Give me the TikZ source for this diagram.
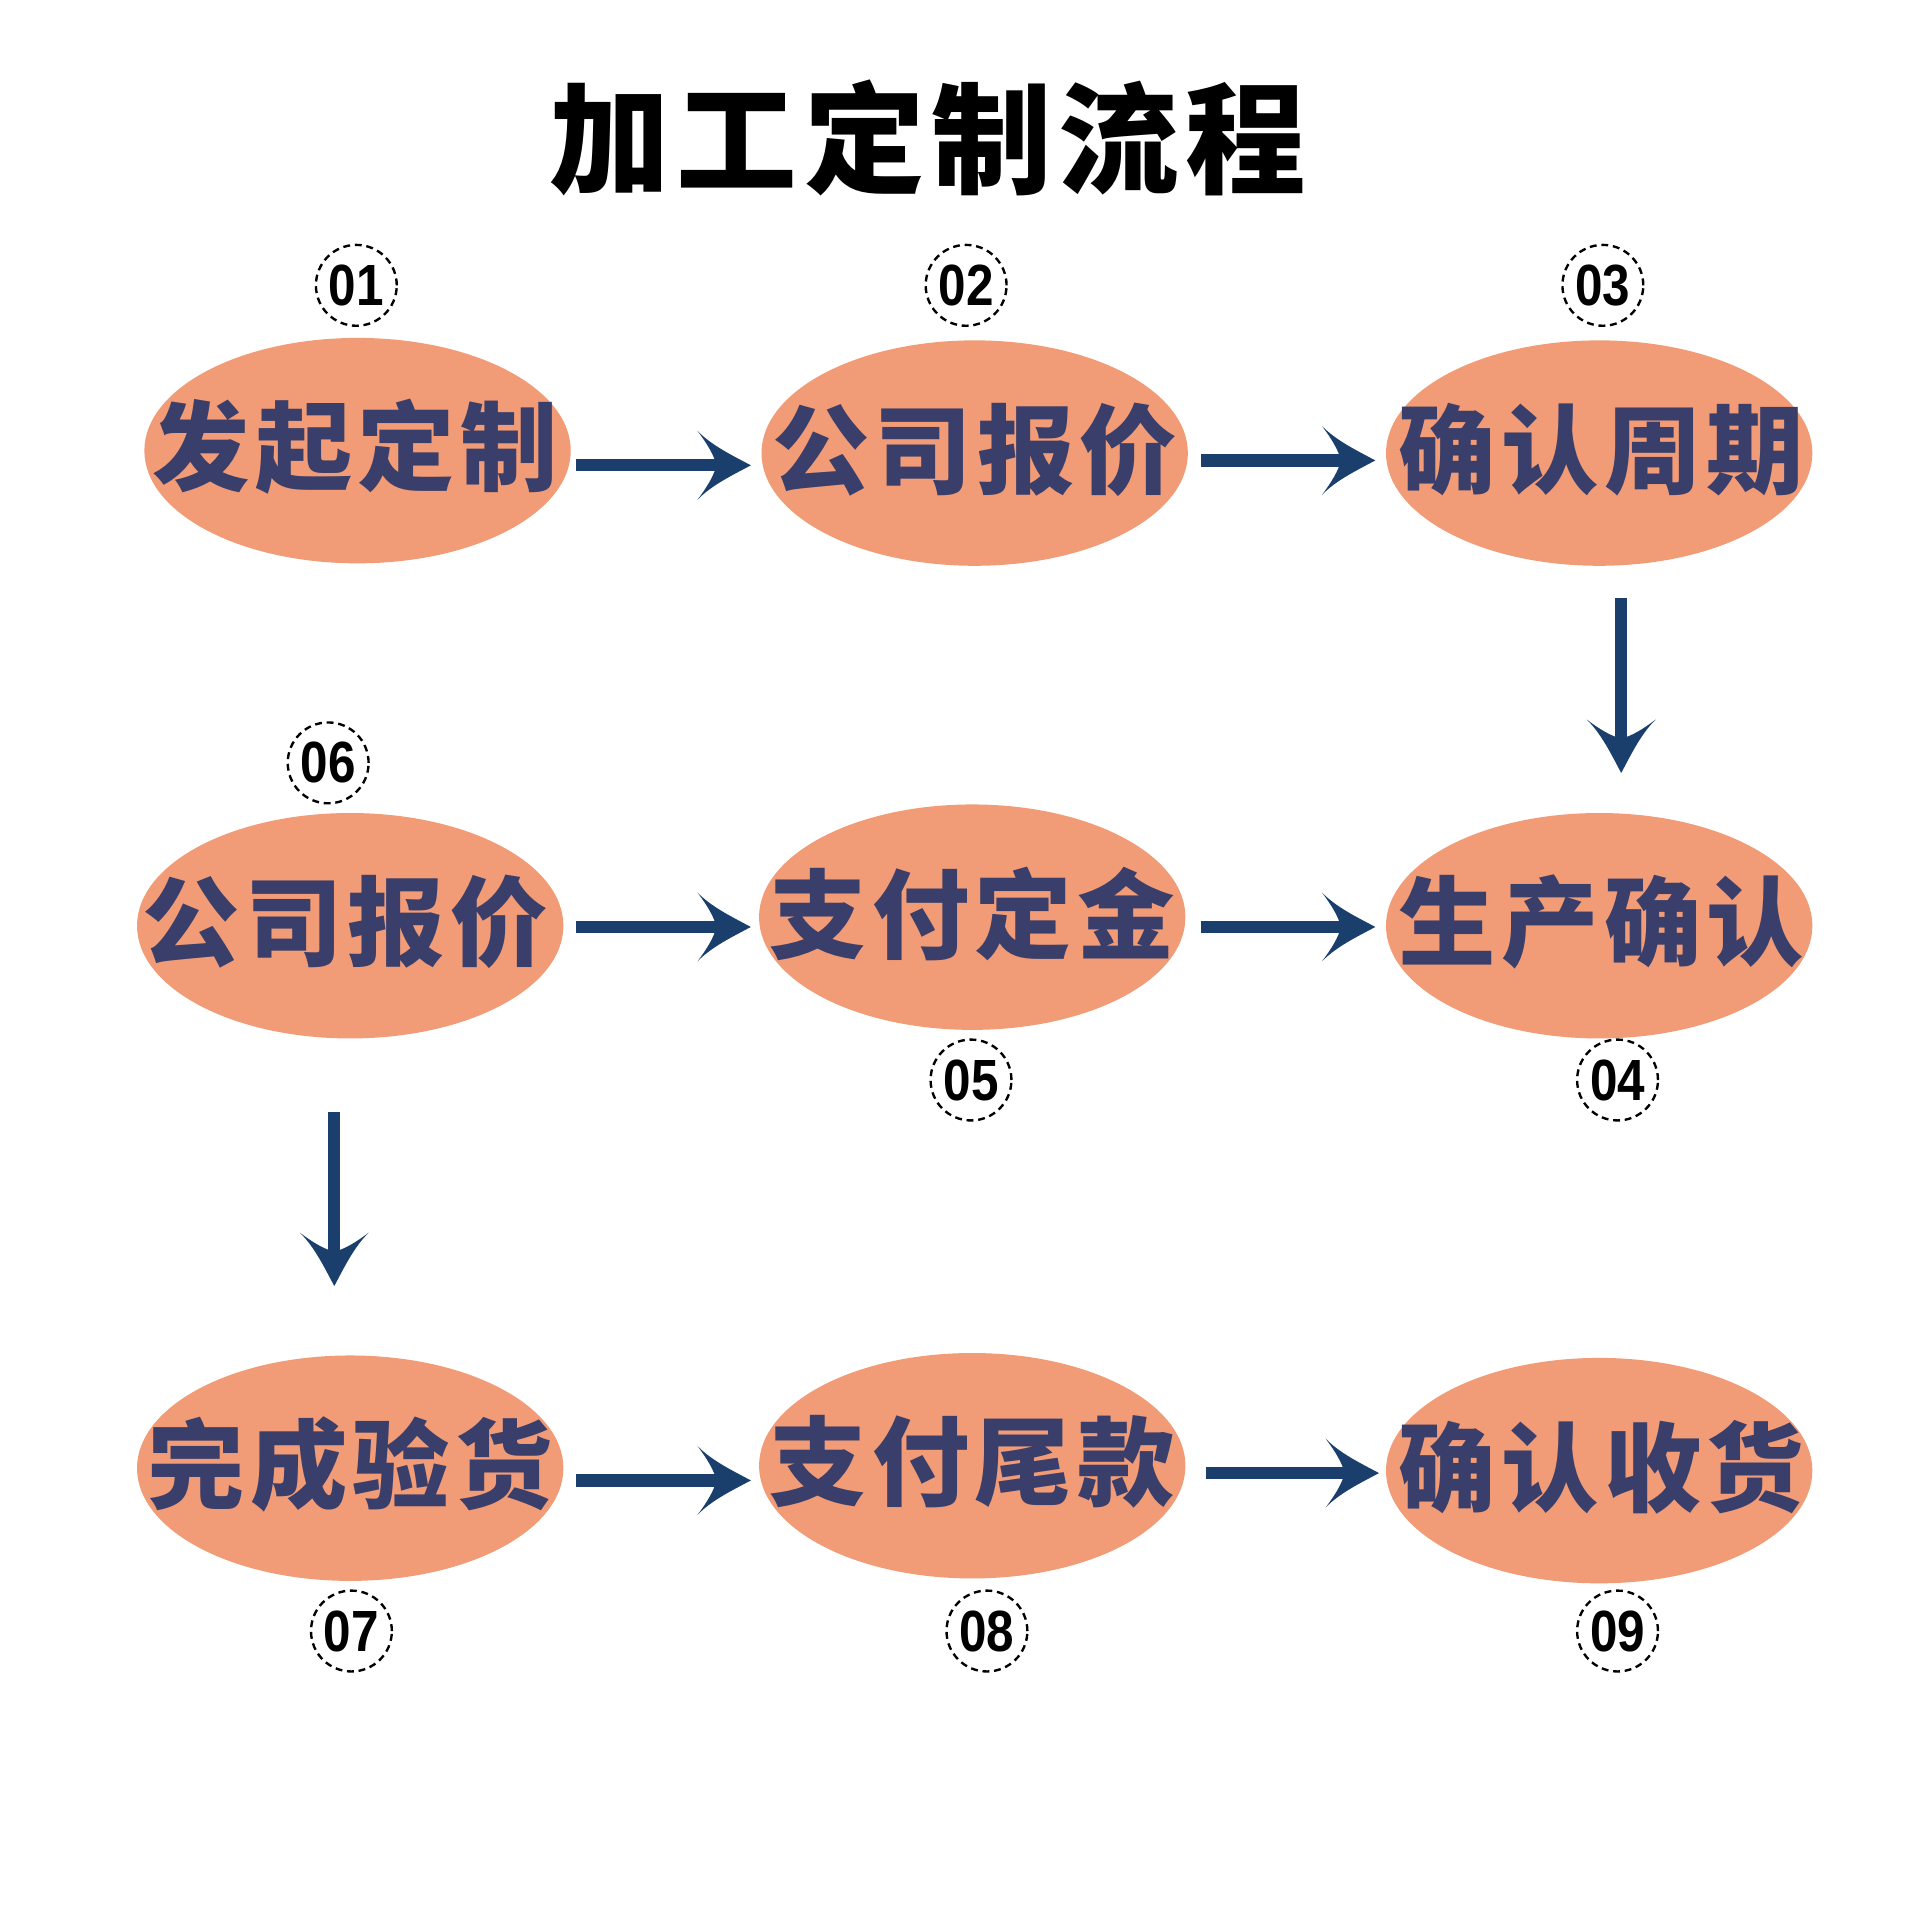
\documentclass[tikz,border=0pt]{standalone}
\usepackage{fontspec}
\newfontfamily\cjk{Noto Sans CJK SC}
\newfontfamily\cjkwide{Noto Sans CJK SC}[LetterSpace=5.5]
\newfontfamily\numfont{Liberation Sans}[FakeStretch=0.85]
\usetikzlibrary{shapes.geometric,calc,arrows.meta}
\definecolor{salmon}{HTML}{F19C77}
\definecolor{labc}{HTML}{3A3E6A}
\definecolor{arrowc}{HTML}{1A3F6D}
\pgfdeclarearrow{
  name = Swoosh,
  setup code = {
    \pgfarrowssettipend{0pt}
    \pgfarrowssetlineend{-7pt}
    \pgfarrowssetvisualbackend{-8pt}
    \pgfarrowssetbackend{-12.4pt}
    \pgfarrowshullpoint{0pt}{0pt}
    \pgfarrowsupperhullpoint{-12.4pt}{8pt}
  },
  drawing code = {
    \pgfpathmoveto{\pgfqpoint{0pt}{0pt}}
    \pgfpathcurveto{\pgfqpoint{-4.3pt}{2.3pt}}{\pgfqpoint{-9.1pt}{4.6pt}}{\pgfqpoint{-12.4pt}{8pt}}
    \pgfpathcurveto{\pgfqpoint{-10.2pt}{5.1pt}}{\pgfqpoint{-8.5pt}{2.3pt}}{\pgfqpoint{-8pt}{0pt}}
    \pgfpathcurveto{\pgfqpoint{-8.5pt}{-2.3pt}}{\pgfqpoint{-10.2pt}{-5.1pt}}{\pgfqpoint{-12.4pt}{-8pt}}
    \pgfpathcurveto{\pgfqpoint{-9.1pt}{-4.6pt}}{\pgfqpoint{-4.3pt}{-2.3pt}}{\pgfqpoint{0pt}{0pt}}
    \pgfpathclose
    \pgfusepathqfill
  }
}
\tikzset{
  ell/.style={ellipse, fill=salmon, minimum width=3.48cm, minimum height=1.84cm, inner sep=0pt},
  lab/.style={font=\cjkwide\bfseries\fontsize{22.6pt}{27pt}\selectfont, text=labc, inner sep=0pt},
  num/.style={circle, draw=black, dash pattern=on 1.6pt off 1.1pt, line width=0.55pt, minimum size=0.66cm, inner sep=0pt, font=\numfont\bfseries\fontsize{13.5pt}{16pt}\selectfont},
  arr/.style={draw=arrowc, fill=arrowc, line width=2.85pt, -{Swoosh}},
}
\begin{document}
\begin{tikzpicture}[x=0.01cm, y=-0.01cm]
\path[use as bounding box, fill=white] (0,0) rectangle (1568,1568);
\node[font=\cjkwide\bfseries\fontsize{28pt}{34pt}\selectfont, inner sep=0pt] (title) at (758,113) {加工定制流程};
% ellipses
\node[ell] (e1) at (292,368) {};
\node[ell] (e2) at (796,370) {};
\node[ell] (e3) at (1306,370) {};
\node[ell] (e6) at (286,756) {};
\node[ell] (e5) at (794,749) {};
\node[ell] (e4) at (1306,756) {};
\node[ell] (e7) at (286,1199) {};
\node[ell] (e8) at (794,1197) {};
\node[ell] (e9) at (1306,1201) {};
% labels
\node[lab] (t1) at ($(e1)+(-2,-3)$) {发起定制};
\node[lab] (t2) at ($(e2)+(0,-3)$) {公司报价};
\node[lab] (t3) at ($(e3)+(2,-3)$) {确认周期};
\node[lab] (t6) at ($(e6)+(-4,-3)$) {公司报价};
\node[lab] (t5) at ($(e5)+(0,-3)$) {支付定金};
\node[lab] (t4) at ($(e4)+(2,-3)$) {生产确认};
\node[lab] (t7) at ($(e7)+(0,-3)$) {完成验货};
\node[lab] (t8) at ($(e8)+(0,-3)$) {支付尾款};
\node[lab] (t9) at ($(e9)+(2,-3)$) {确认收货};
% numbers
\node[num] (n1) at (291,233) {01};
\node[num] (n2) at (789,233) {02};
\node[num] (n3) at (1309,233) {03};
\node[num] (n6) at (268,623) {06};
\node[num] (n5) at (793,882) {05};
\node[num] (n4) at (1321,882) {04};
\node[num] (n7) at (287,1332) {07};
\node[num] (n8) at (806,1332) {08};
\node[num] (n9) at (1321,1332) {09};
% arrows
\draw[arr] ($(e1.east)+(4,12)$) -- ($(e2.west)+(-8,10)$);
\draw[arr] ($(e2.east)+(10,6)$) -- ($(e3.west)+(-8,6)$);
\draw[arr] ($(e3.south)+(18,26)$) -- ($(e4.north)+(18,-32)$);
\draw[arr] ($(e6.east)+(10,1)$) -- ($(e5.west)+(-6,8)$);
\draw[arr] ($(e5.east)+(12,8)$) -- ($(e4.west)+(-8,1)$);
\draw[arr] ($(e6.south)+(-13,59)$) -- ($(e7.north)+(-13,-56)$);
\draw[arr] ($(e7.east)+(10,10)$) -- ($(e8.west)+(-6,12)$);
\draw[arr] ($(e8.east)+(16,6)$) -- ($(e9.west)+(-5,2)$);
\end{tikzpicture}
\end{document}
